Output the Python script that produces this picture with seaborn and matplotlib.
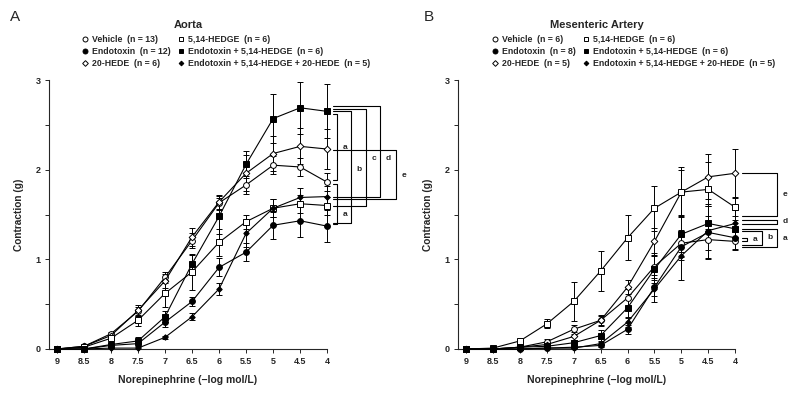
import matplotlib
matplotlib.use("Agg")
import matplotlib.pyplot as plt
from matplotlib.lines import Line2D
import numpy as np
import pandas as pd
import seaborn as sns

# -log molar concentration of norepinephrine
conc = [9, 8.5, 8, 7.5, 7, 6.5, 6, 5.5, 5, 4.5, 4]

series_names = ["Vehicle", "Endotoxin", "20-HEDE", "5,14-HEDGE",
                "Endotoxin + 5,14-HEDGE", "Endotoxin + 5,14-HEDGE + 20-HEDE"]

# Aorta (panel A)
aorta_n = [13, 12, 6, 6, 6, 5]
aorta_mean = {
    "Vehicle": [0, 0.03, 0.17, 0.42, 0.80, 1.21, 1.63, 1.83, 2.05, 2.03, 1.86],
    "Endotoxin": [0, 0, 0.04, 0.06, 0.30, 0.53, 0.91, 1.08, 1.38, 1.43, 1.37],
    "20-HEDE": [0, 0.03, 0.15, 0.43, 0.76, 1.25, 1.64, 1.96, 2.18, 2.26, 2.23],
    "5,14-HEDGE": [0, 0.02, 0.12, 0.32, 0.62, 0.86, 1.19, 1.42, 1.57, 1.62, 1.60],
    "Endotoxin + 5,14-HEDGE": [0, 0, 0.05, 0.09, 0.36, 0.95, 1.48, 2.06, 2.57, 2.69, 2.65],
    "Endotoxin + 5,14-HEDGE + 20-HEDE": [0, 0, 0.01, 0.01, 0.13, 0.36, 0.67, 1.29, 1.57, 1.69, 1.70],
}
aorta_err = {
    "Vehicle": [0, 0.01, 0.02, 0.05, 0.06, 0.08, 0.08, 0.10, 0.10, 0.10, 0.10],
    "Endotoxin": [0, 0, 0.02, 0.03, 0.05, 0.05, 0.10, 0.10, 0.15, 0.18, 0.18],
    "20-HEDE": [0, 0.01, 0.03, 0.06, 0.08, 0.10, 0.08, 0.20, 0.20, 0.20, 0.22],
    "5,14-HEDGE": [0, 0.01, 0.03, 0.06, 0.15, 0.20, 0.15, 0.08, 0.10, 0.10, 0.10],
    "Endotoxin + 5,14-HEDGE": [0, 0, 0.02, 0.04, 0.06, 0.10, 0.20, 0.15, 0.27, 0.29, 0.30],
    "Endotoxin + 5,14-HEDGE + 20-HEDE": [0, 0, 0, 0.01, 0.02, 0.04, 0.07, 0.15, 0.10, 0.10, 0.12],
}

# Mesenteric artery (panel B)
mes_n = [6, 8, 5, 6, 6, 5]
mes_mean = {
    "Vehicle": [0, 0, 0.02, 0.08, 0.22, 0.32, 0.57, 0.92, 1.18, 1.22, 1.20],
    "Endotoxin": [0, 0, 0, 0.01, 0.02, 0.04, 0.22, 0.69, 1.14, 1.30, 1.24],
    "20-HEDE": [0, 0, 0.02, 0.05, 0.14, 0.32, 0.69, 1.20, 1.75, 1.92, 1.96],
    "5,14-HEDGE": [0, 0.01, 0.09, 0.28, 0.53, 0.87, 1.24, 1.57, 1.75, 1.78, 1.58],
    "Endotoxin + 5,14-HEDGE": [0, 0, 0.02, 0.03, 0.07, 0.15, 0.46, 0.89, 1.28, 1.40, 1.34],
    "Endotoxin + 5,14-HEDGE + 20-HEDE": [0, 0, 0, 0.01, 0.01, 0.06, 0.30, 0.67, 1.04, 1.32, 1.40],
}
mes_err = {
    "Vehicle": [0, 0, 0.01, 0.03, 0.05, 0.05, 0.10, 0.15, 0.15, 0.12, 0.10],
    "Endotoxin": [0, 0, 0, 0.01, 0.01, 0.02, 0.05, 0.10, 0.15, 0.30, 0.12],
    "20-HEDE": [0, 0, 0.01, 0.03, 0.05, 0.06, 0.08, 0.15, 0.28, 0.25, 0.27],
    "5,14-HEDGE": [0, 0.01, 0.02, 0.05, 0.22, 0.22, 0.25, 0.25, 0.25, 0.30, 0.10],
    "Endotoxin + 5,14-HEDGE": [0, 0, 0.01, 0.02, 0.03, 0.06, 0.10, 0.15, 0.20, 0.20, 0.10],
    "Endotoxin + 5,14-HEDGE + 20-HEDE": [0, 0, 0, 0.01, 0.01, 0.02, 0.05, 0.15, 0.27, 0.30, 0.15],
}

# significance brackets: (top, bottom, x of vertical, label, label y)
aorta_brackets = [
    (2.62, 1.88, 3.815, "a", 2.25),
    (1.84, 1.39, 3.815, "a", 1.50),
    (2.65, 1.40, 3.556, "b", 2.00),
    (2.68, 1.59, 3.278, "c", 2.12),
    (2.71, 1.70, 3.019, "d", 2.12),
    (2.22, 1.67, 2.722, "e", 1.93),
]
mes_brackets = [
    (1.96, 1.48, 3.22, "e", 1.72),
    (1.44, 1.39, 3.22, "d", 1.42),
    (1.34, 1.14, 3.22, "a", 1.23),
    (1.32, 1.16, 3.50, "b", 1.24),
    (1.24, 1.20, 3.78, "a", 1.22),
]

marker_style = {
    "Vehicle": ("o", "white", 4.2),
    "Endotoxin": ("o", "black", 4.2),
    "20-HEDE": ("D", "white", 3.4),
    "5,14-HEDGE": ("s", "white", 4.0),
    "Endotoxin + 5,14-HEDGE": ("s", "black", 4.0),
    "Endotoxin + 5,14-HEDGE + 20-HEDE": ("D", "black", 2.8),
}

sns.set_style("ticks")
plt.rcParams["font.family"] = ["Liberation Sans", "DejaVu Sans"]

fig = plt.figure(figsize=(8, 4), dpi=100)
ax_a = fig.add_axes([0.061, 0.1275, 0.348, 0.6725])
ax_b = fig.add_axes([0.5725, 0.1275, 0.3465, 0.6725])


def draw_panel(ax, means, errs, ns, brackets, title, legend_x, h_start):
    for name in series_names:
        marker, face, size = marker_style[name]
        df = pd.DataFrame({"conc": conc, "val": means[name]})
        eb = ax.errorbar(conc, means[name], yerr=errs[name], fmt="none", ecolor="black",
                         elinewidth=0.7, capsize=2.2, capthick=0.7, zorder=2)
        for art in eb.lines[1] + eb.lines[2]:
            art.set_clip_on(False)
        sns.lineplot(data=df, x="conc", y="val", ax=ax, color="black", lw=0.8,
                     marker=marker, markersize=size, markerfacecolor=face,
                     markeredgecolor="black", markeredgewidth=0.7, zorder=3,
                     clip_on=False)

    for top, bottom, xv, lab, ly in brackets:
        ax.plot([h_start, xv, xv, h_start], [top, top, bottom, bottom],
                color="black", lw=0.8, clip_on=False)
        ax.text(xv - 0.1, ly, lab, fontsize=6, fontweight="bold",
                ha="left", va="center", clip_on=False)

    ax.set_xlim(9.15, 4)
    ax.set_ylim(0, 3)
    ax.set_xticks(conc)
    ax.set_xticklabels([f"{c:g}" for c in conc])
    ax.set_yticks(np.arange(0, 3.01, 0.5))
    ax.set_yticklabels(["0", "", "1", "", "2", "", "3"])
    ax.tick_params(labelsize=6.5, length=3, width=0.7, pad=3)
    for lbl in ax.get_xticklabels() + ax.get_yticklabels():
        lbl.set_fontweight("bold")
    ax.set_xlabel("Norepinephrine (\u2212log mol/L)", fontsize=7.5, fontweight="bold",
                  labelpad=6)
    ax.set_ylabel("Contraction (g)", fontsize=7.3, fontweight="bold", labelpad=8)
    for sp in ["left", "bottom"]:
        ax.spines[sp].set_linewidth(0.8)
    sns.despine(ax=ax)

    handles = []
    labels = []
    for name, n in zip(series_names, ns):
        marker, face, size = marker_style[name]
        handles.append(Line2D([], [], ls="none", marker=marker, markersize=size * 0.85,
                              markerfacecolor=face, markeredgecolor="black",
                              markeredgewidth=0.7))
        labels.append(f"{name}  (n = {n})")
    fig.legend(handles, labels, ncol=2, loc="upper left",
               bbox_to_anchor=(legend_x, 0.912), frameon=False,
               prop={"size": 6.3, "weight": "bold"}, handlelength=0.8,
               handletextpad=0.4, labelspacing=0.32, columnspacing=0.8,
               borderpad=0, borderaxespad=0)

    pos = ax.get_position()
    fig.text((pos.x0 + pos.x1) / 2, 0.937, title, fontsize=8, fontweight="bold",
             ha="center", va="center")


draw_panel(ax_a, aorta_mean, aorta_err, aorta_n, aorta_brackets, "Aorta", 0.102, 3.89)
draw_panel(ax_b, mes_mean, mes_err, mes_n, mes_brackets, "Mesenteric Artery", 0.614, 3.87)

fig.text(0.012, 0.975, "A", fontsize=11, ha="left", va="top")
fig.text(0.53, 0.975, "B", fontsize=11, ha="left", va="top")

fig.savefig("out.png", dpi=100, facecolor="white")
